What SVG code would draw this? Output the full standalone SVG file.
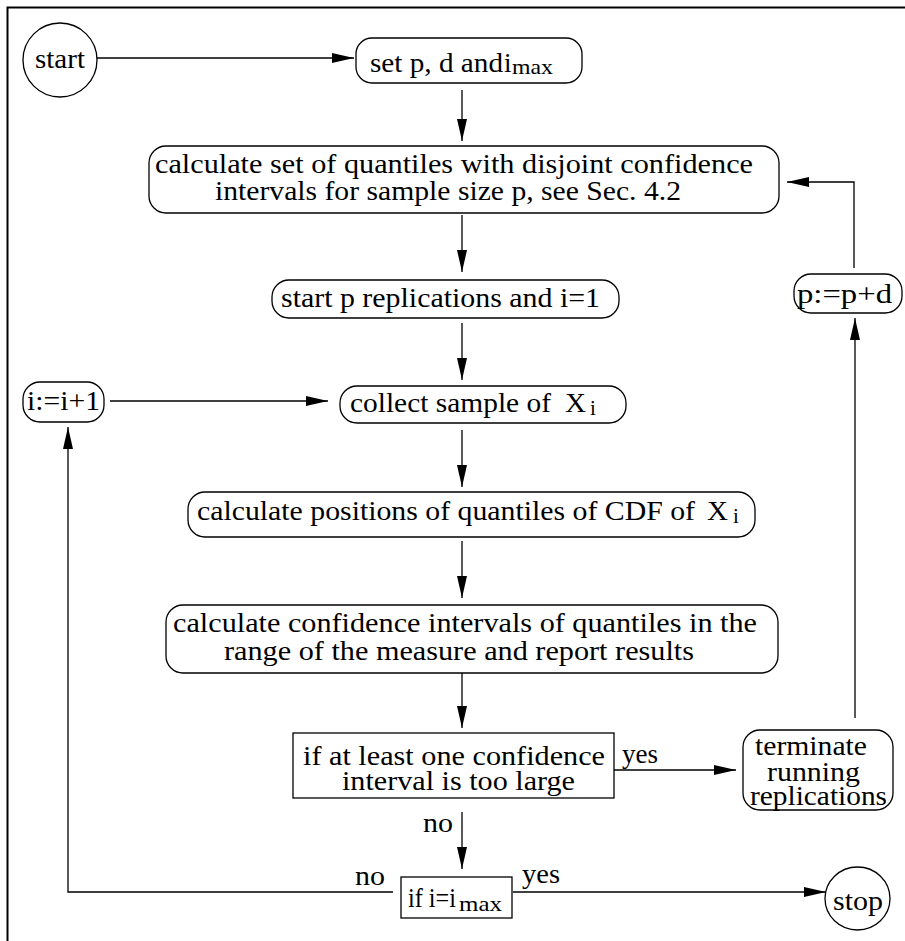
<svg xmlns="http://www.w3.org/2000/svg" width="905" height="941" viewBox="0 0 905 941">
<defs>
<marker id="ah" markerWidth="22" markerHeight="10" refX="22" refY="5" orient="auto" markerUnits="userSpaceOnUse">
<path d="M0,0 L22,5 L0,10 Z" fill="#000"/>
</marker>
<style>
.n{fill:#fff;stroke:#000;stroke-width:1.3}
.c{fill:none;stroke:#000;stroke-width:1.3}
.a{marker-end:url(#ah)}
text{font-family:"Liberation Serif","Times New Roman",serif;font-size:27px;fill:#000}
.s{font-size:21px}
</style>
</defs>
<rect width="905" height="941" fill="#fff"/>
<g id="frame">
<path d="M7.5,941 V7.5 H905" fill="none" stroke="#000" stroke-width="2"/>
</g>
<g id="connectors">
<path class="c a" d="M97,58 H354"/>
<path class="c a" d="M462,90 V141"/>
<path class="c a" d="M462,215 V272"/>
<path class="c a" d="M462,323 V380"/>
<path class="c a" d="M110,401 H328"/>
<path class="c a" d="M462,430 V487"/>
<path class="c a" d="M462,541 V598"/>
<path class="c a" d="M462,673 V728"/>
<path class="c a" d="M614,770 H736"/>
<path class="c a" d="M855,718 V318"/>
<path class="c a" d="M854,268 V182 H787"/>
<path class="c a" d="M462,812 V869"/>
<path class="c a" d="M393,892 H68 V427"/>
<path class="c a" d="M513,892 H826"/>
</g>
<g id="start">
<ellipse class="n" cx="60" cy="60" rx="37" ry="37"/>
<text x="35" y="68" textLength="50" lengthAdjust="spacingAndGlyphs">start</text>
</g>
<g id="set">
<rect class="n" x="356" y="38" width="226" height="45" rx="16"/>
<text y="72"><tspan x="370" textLength="133" lengthAdjust="spacingAndGlyphs">set p, d and</tspan><tspan x="504">i</tspan><tspan class="s" x="512" y="74" textLength="41" lengthAdjust="spacingAndGlyphs">max</tspan></text>
</g>
<g id="calcset">
<rect class="n" x="149" y="146" width="630" height="67" rx="17"/>
<text x="155" y="173" textLength="598" lengthAdjust="spacingAndGlyphs">calculate set of quantiles with disjoint confidence</text>
<text x="215" y="200" textLength="466" lengthAdjust="spacingAndGlyphs">intervals for sample size p, see Sec. 4.2</text>
</g>
<g id="startrep">
<rect class="n" x="272" y="280" width="347" height="38" rx="17"/>
<text x="281" y="307" textLength="319" lengthAdjust="spacingAndGlyphs">start p replications and i=1</text>
</g>
<g id="inc">
<rect class="n" x="23" y="382" width="81" height="40" rx="17"/>
<text x="27" y="410" textLength="73" lengthAdjust="spacingAndGlyphs">i:=i+1</text>
</g>
<g id="collect">
<rect class="n" x="340" y="386" width="286" height="37" rx="17"/>
<text y="412"><tspan x="350" textLength="201" lengthAdjust="spacingAndGlyphs">collect sample of</tspan><tspan x="565" textLength="21" lengthAdjust="spacingAndGlyphs">X</tspan><tspan class="s" x="590" y="415">i</tspan></text>
</g>
<g id="positions">
<rect class="n" x="188" y="492" width="567" height="45" rx="17"/>
<text y="520"><tspan x="197" textLength="498" lengthAdjust="spacingAndGlyphs">calculate positions of quantiles of CDF of</tspan><tspan x="707" textLength="21" lengthAdjust="spacingAndGlyphs">X</tspan><tspan class="s" x="733" y="523">i</tspan></text>
</g>
<g id="confint">
<rect class="n" x="166" y="605" width="612" height="68" rx="17"/>
<text x="173" y="632" textLength="584" lengthAdjust="spacingAndGlyphs">calculate confidence intervals of quantiles in the</text>
<text x="224" y="660" textLength="470" lengthAdjust="spacingAndGlyphs">range of the measure and report results</text>
</g>
<g id="toolarge">
<rect class="n" x="293" y="733" width="321" height="65"/>
<text x="303" y="765" textLength="302" lengthAdjust="spacingAndGlyphs">if at least one confidence</text>
<text x="342" y="790" textLength="233" lengthAdjust="spacingAndGlyphs">interval is too large</text>
<text x="622" y="763" textLength="36" lengthAdjust="spacingAndGlyphs">yes</text>
<text x="423" y="832" textLength="30" lengthAdjust="spacingAndGlyphs">no</text>
</g>
<g id="terminate">
<rect class="n" x="743" y="730" width="150" height="80" rx="17"/>
<text x="755" y="755" textLength="112" lengthAdjust="spacingAndGlyphs">terminate</text>
<text x="767" y="781" textLength="93" lengthAdjust="spacingAndGlyphs">running</text>
<text x="750" y="805" textLength="137" lengthAdjust="spacingAndGlyphs">replications</text>
</g>
<g id="incp">
<rect class="n" x="794" y="274" width="108" height="39" rx="17"/>
<text x="797" y="303" textLength="95" lengthAdjust="spacingAndGlyphs">p:=p+d</text>
</g>
<g id="imax">
<rect class="n" x="401" y="877" width="111" height="41"/>
<text y="907"><tspan x="408" textLength="48" lengthAdjust="spacingAndGlyphs">if i=i</tspan><tspan class="s" x="459" y="911" textLength="43" lengthAdjust="spacingAndGlyphs">max</tspan></text>
<text x="355" y="885" textLength="30" lengthAdjust="spacingAndGlyphs">no</text>
<text x="522" y="883" textLength="38" lengthAdjust="spacingAndGlyphs">yes</text>
</g>
<g id="stop">
<ellipse class="n" cx="857.5" cy="898.5" rx="32.5" ry="31.5"/>
<text x="833" y="910" textLength="50" lengthAdjust="spacingAndGlyphs">stop</text>
</g>
</svg>
